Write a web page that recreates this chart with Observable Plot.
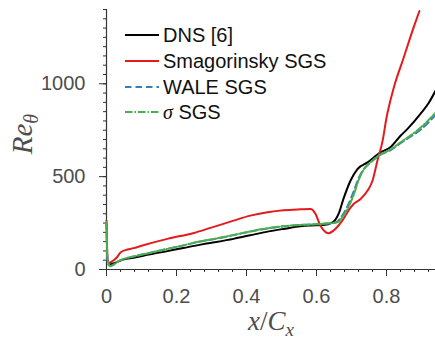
<!DOCTYPE html>
<html>
<head>
<meta charset="utf-8">
<script src="https://cdn.jsdelivr.net/npm/d3@7"></script>
<script src="https://cdn.jsdelivr.net/npm/@observablehq/plot@0.6"></script>
<style>
  html, body { margin: 0; padding: 0; background: #fff; }
</style>
</head>
<body>
<div id="chart"></div>
<script>
// ---- data ----
const seriesNames = ["DNS [6]", "Smagorinsky SGS", "WALE SGS", "σ SGS"];

const dnsX = [0.006, 0.015, 0.03, 0.05, 0.077, 0.12, 0.174, 0.22, 0.269, 0.297, 0.363, 0.41, 0.46, 0.51, 0.554, 0.583, 0.62, 0.645, 0.663, 0.677, 0.697, 0.717, 0.746, 0.783, 0.811, 0.84, 0.86, 0.897, 0.92, 0.94];
const dnsY = [27, 30, 40, 55, 63, 80, 99, 116, 134, 143, 165, 184, 204, 220, 233, 237, 239, 252, 299, 380, 478, 541, 577, 631, 658, 720, 757, 838, 895, 962];

const smagX = [0, 0.003, 0.008, 0.015, 0.03, 0.04, 0.06, 0.077, 0.1, 0.174, 0.25, 0.297, 0.363, 0.411, 0.46, 0.506, 0.554, 0.583, 0.597, 0.611, 0.626, 0.634, 0.649, 0.663, 0.677, 0.691, 0.706, 0.726, 0.746, 0.76, 0.774, 0.789, 0.80, 0.821, 0.849, 0.877, 0.894];
const smagY = [263, 60, 35, 42, 66, 91, 108, 115, 128, 165, 197, 224, 263, 290, 308, 319, 324, 326, 300, 237, 201, 195, 210, 237, 272, 317, 353, 380, 425, 478, 586, 694, 817, 980, 1140, 1301, 1392];

const waleX = [0, 0.003, 0.01, 0.02, 0.03, 0.05, 0.077, 0.12, 0.174, 0.22, 0.269, 0.297, 0.363, 0.41, 0.46, 0.51, 0.554, 0.583, 0.62, 0.655, 0.677, 0.691, 0.706, 0.72, 0.734, 0.754, 0.783, 0.811, 0.84, 0.86, 0.897, 0.94];
const waleY = [250, 50, 19, 26, 40, 57, 70, 88, 111, 130, 151, 160, 185, 204, 221, 233, 240, 242, 246, 254, 300, 350, 420, 490, 538, 575, 618, 642, 680, 705, 752, 832];

const sigmaX = [0, 0.003, 0.01, 0.02, 0.03, 0.05, 0.077, 0.12, 0.174, 0.22, 0.269, 0.297, 0.363, 0.41, 0.46, 0.51, 0.554, 0.583, 0.62, 0.66, 0.677, 0.691, 0.706, 0.72, 0.734, 0.754, 0.783, 0.811, 0.84, 0.86, 0.897, 0.94];
const sigmaY = [254, 50, 18, 25, 40, 57, 70, 88, 111, 130, 152, 161, 186, 205, 222, 234, 240, 242, 246, 254, 290, 335, 400, 480, 535, 577, 620, 645, 685, 710, 763, 844];

const xMajorTicks = [0, 0.2, 0.4, 0.6, 0.8];
const xTickLabels = ["0", "0.2", "0.4", "0.6", "0.8"];
const xMinorStep = 0.04;
const yMajorTicks = [0, 500, 1000];
const yTickLabels = ["0", "500", "1000"];
const yMinorStep = 50;
const xMax = 0.94, yMax = 1400;

// ---- build tables ----
const toRows = (xs, ys) => xs.map((x, i) => ({x, y: ys[i]}));
const dns = toRows(dnsX, dnsY);
const smag = toRows(smagX, smagY);
const wale = toRows(waleX, waleY);
const sigma = toRows(sigmaX, sigmaY);

const xMinor = d3.range(0, Math.round(xMax / xMinorStep) + 1).map(i => +(i * xMinorStep).toFixed(4)).filter(v => v <= xMax);
const yMinor = d3.range(0, yMax + 1, yMinorStep);

const colors = {dns: "#000000", smag: "#e41a1c", wale: "#377eb8", sigma: "#4daf4a"};
const dashes = {wale: "6.5,4", sigma: "7.5,2,1.5,2"};

const sans = "'Liberation Sans', Arial, Helvetica, sans-serif";
const serif = "'Liberation Serif', 'DejaVu Serif', serif";

const svg = Plot.plot({
  width: 435,
  height: 341,
  marginLeft: 106,
  marginRight: 0,
  marginTop: 9,
  marginBottom: 72,
  style: {fontFamily: sans, fontSize: "20px", background: "white", overflow: "visible"},
  x: {domain: [0, xMax]},
  y: {domain: [0, yMax]},
  marks: [
    // minor ticks
    Plot.axisX(xMinor, {tickSize: 3, tickFormat: () => "", stroke: "#333", label: null}),
    Plot.axisY(yMinor, {tickSize: 3, tickFormat: () => "", stroke: "#333", label: null}),
    // major ticks
    Plot.axisX(xMajorTicks, {tickSize: 7, tickPadding: 12, tickFormat: (d, i) => xTickLabels[i], stroke: "#333", color: "#4d4d4d", fontSize: 20, label: null}),
    Plot.axisY(yMajorTicks, {tickSize: 7, tickPadding: 14, tickFormat: (d, i) => yTickLabels[i], stroke: "#333", color: "#4d4d4d", fontSize: 20, label: null}),
    // spines
    Plot.ruleX([0], {stroke: "#333", strokeWidth: 1.2}),
    Plot.ruleY([0], {stroke: "#333", strokeWidth: 1.2}),
    // series
    Plot.line(dns, {x: "x", y: "y", stroke: colors.dns, strokeWidth: 2, curve: "monotone-x"}),
    Plot.line(smag, {x: "x", y: "y", stroke: colors.smag, strokeWidth: 2, curve: "monotone-x"}),
    Plot.line(wale, {x: "x", y: "y", stroke: colors.wale, strokeWidth: 2, strokeDasharray: dashes.wale, curve: "monotone-x"}),
    Plot.line(sigma, {x: "x", y: "y", stroke: colors.sigma, strokeWidth: 2, strokeDasharray: dashes.sigma, curve: "monotone-x"})
  ]
});

const s = d3.select(svg);

// axis labels
const yl = s.append("text")
  .attr("transform", "translate(32,134) rotate(-90)")
  .attr("text-anchor", "middle")
  .attr("fill", "#4d4d4d")
  .style("font-family", serif)
  .style("font-style", "italic")
  .style("font-size", "29px");
yl.append("tspan").text("Re");
yl.append("tspan").attr("dy", "6").style("font-size", "20px").text("θ");

const xl = s.append("text")
  .attr("x", 271)
  .attr("y", 330)
  .attr("text-anchor", "middle")
  .attr("fill", "#4d4d4d")
  .style("font-family", serif)
  .style("font-style", "italic")
  .style("font-size", "27px");
xl.append("tspan").text("x");
xl.append("tspan").style("font-style", "normal").text("/");
xl.append("tspan").text("C");
xl.append("tspan").attr("dy", "6").style("font-size", "19px").text("x");

// legend
const legendKeys = ["dns", "smag", "wale", "sigma"];
const legendY = [35, 61, 87, 112];
legendKeys.forEach((k, i) => {
  const g = s.append("g");
  g.append("line")
    .attr("x1", 125).attr("x2", 159)
    .attr("y1", legendY[i]).attr("y2", legendY[i])
    .attr("stroke", colors[k]).attr("stroke-width", 2)
    .attr("stroke-dasharray", dashes[k] || null);
  const t = g.append("text")
    .attr("x", 163).attr("y", legendY[i] + 7)
    .attr("text-anchor", "start")
    .attr("fill", "#111")
    .style("font-family", sans)
    .style("font-size", "20px");
  if (k === "sigma") {
    t.append("tspan").style("font-family", serif).style("font-style", "italic").text("σ");
    t.append("tspan").text(" SGS");
  } else {
    t.text(seriesNames[i]);
  }
});

document.getElementById("chart").appendChild(svg);
</script>
</body>
</html>
